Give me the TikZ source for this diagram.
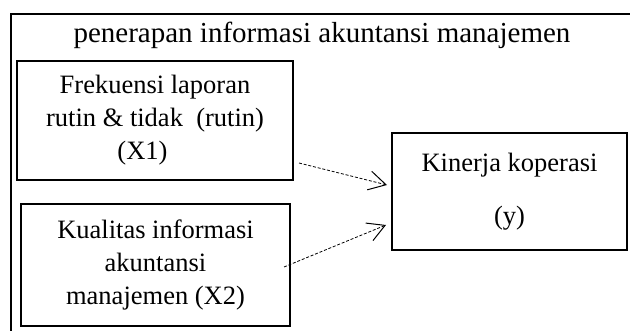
\documentclass[tikz,border=0pt]{standalone}
\usepackage{fontspec}
\setmainfont{Liberation Serif}
\usepackage{tikz}
\usetikzlibrary{
  arrows.meta,
}
\tikzset{
  boxtext/.style={font=\fontsize{26.5}{33}\selectfont},
  titletext/.style={font=\fontsize{29}{35}\selectfont},
  varbox/.style={
    draw,
    line width=2pt,
    align=center,
    inner sep=0pt,
    boxtext,
  },
  dasharrow/.style={
    line width=0.8pt,
    dash pattern=on 3pt off 1.8pt,
    -{Straight Barb[length=17pt,width=19pt,line width=1pt]},
  },
}

\begin{document}
\begin{tikzpicture}[x=1pt,y=1pt]
  \clip (0,0) rectangle (630,331);

  % outer frame + title
  \draw[line width=2pt] (11,-20) rectangle (645,317);
  \node[titletext] (title) at (322,296) {penerapan informasi akuntansi manajemen};

  % independent variables
  \node[varbox, minimum width=276pt, minimum height=119pt] (x1) at (155,210.5)
    {Frekuensi laporan\\rutin \& tidak~~(rutin)\hspace*{30pt}\\(X1)\hspace*{25pt}};
  \node[varbox, minimum width=269pt, minimum height=122pt] (x2) at (155.5,66)
    {Kualitas informasi\\akuntansi\\manajemen (X2)};

  % dependent variable
  \node[varbox, minimum width=235pt, minimum height=117pt] (y) at (509.5,139.5)
    {Kinerja koperasi\\[20pt](y)};

  % arrows
  \coordinate (x1out) at ([shift={(5,18)}]x1.south east);
  \coordinate (x2out) at ([shift={(-7,-2)}]x2.east);
  \draw[dasharrow] (x1out) -- ([shift={(-4,6.5)}]y.west);
  \draw[dasharrow] (x2out) -- ([shift={(-5,-33.5)}]y.west);
\end{tikzpicture}
\end{document}
